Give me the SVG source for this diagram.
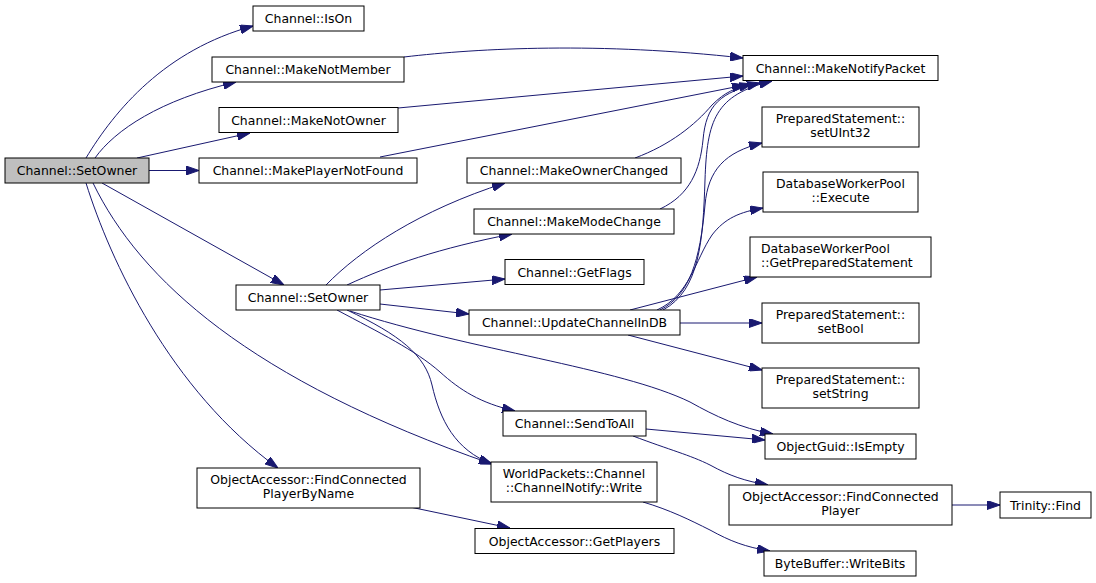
<svg xmlns="http://www.w3.org/2000/svg" width="1096" height="583" viewBox="0 0 1096 583">
<defs>
<marker id="ah" markerWidth="13" markerHeight="9" refX="13" refY="4.5" orient="auto" markerUnits="userSpaceOnUse"><path d="M0,0 L13,4.5 L0,9 z" fill="#191970" stroke="#191970" stroke-width="1"/></marker>
</defs>
<style>
.n rect{fill:#ffffff;stroke:#000000;stroke-width:1}
.n.root rect{fill:#bfbfbf}
.n text{font-family:"DejaVu Sans","Liberation Sans",sans-serif;font-size:12.45px;fill:#000000;text-anchor:middle}
.n text.l{text-anchor:start}
#edges path{fill:none;stroke:#191970;stroke-width:1;marker-end:url(#ah)}
</style>
<rect x="0" y="0" width="1096" height="583" fill="#ffffff"/>
<g id="edges">
<path d="M86,158 C115,110 165,50 253,26"/>
<path d="M95,158 C115,130 160,100 236,82"/>
<path d="M137,158 L250,133"/>
<path d="M149,170.5 L199,170.5"/>
<path d="M102,183 L284,285"/>
<path d="M86,183 C110,260 170,390 278,468"/>
<path d="M93,183 C140,280 250,380 492,464"/>
<path d="M326,285 C360,250 420,210 505,183"/>
<path d="M347,285 C390,265 440,248 512,234"/>
<path d="M380,290 L505,279"/>
<path d="M380,304 L469,314"/>
<path d="M350,311 C470,350 620,368 690,402 C715,416 740,428 773,434"/>
<path d="M337,310 C380,333 415,350 440,372 C460,390 480,403 515,411"/>
<path d="M347,310 C400,335 425,355 432,385 C440,420 455,450 492,464"/>
<path d="M680,323 L762,323"/>
<path d="M628,335 L762,370"/>
<path d="M630,310 L757,277"/>
<path d="M657,310 C690,295 695,260 712,235 C725,218 740,212 763,208"/>
<path d="M660,310 C690,295 700,260 705,205 C708,170 725,152 762,143"/>
<path d="M663,310 C700,290 703,240 705,180 C707,120 715,95 772,81"/>
<path d="M404,57 C480,48 600,42 743,58"/>
<path d="M398,108 L743,76"/>
<path d="M380,157 L745,85"/>
<path d="M635,158 C670,145 695,125 712,105 C725,92 735,88 752,84"/>
<path d="M660,209 C690,195 700,170 703,140 C706,105 720,92 760,83"/>
<path d="M646,429 L765,440"/>
<path d="M633,436 C670,450 690,455 710,465 C730,476 745,481 768,485"/>
<path d="M643,502 C670,510 690,520 710,530 C730,541 745,547 770,551"/>
<path d="M410,507 L510,528"/>
<path d="M952,505 L1000,505"/>
</g>
<g id="n_root" class="n root"><rect x="5" y="158" width="144" height="25"/><text x="77" y="175">Channel::SetOwner</text></g>
<g id="n_ison" class="n"><rect x="253" y="6" width="111" height="25"/><text x="308.5" y="23">Channel::IsOn</text></g>
<g id="n_makenotmember" class="n"><rect x="212" y="57" width="192" height="25"/><text x="308" y="74">Channel::MakeNotMember</text></g>
<g id="n_makenotowner" class="n"><rect x="219" y="107.5" width="179" height="25"/><text x="308.5" y="124.5">Channel::MakeNotOwner</text></g>
<g id="n_makeplayernotfound" class="n"><rect x="199" y="158" width="218" height="25"/><text x="308" y="175">Channel::MakePlayerNotFound</text></g>
<g id="n_setowner2" class="n"><rect x="236" y="285" width="144" height="25"/><text x="308" y="302">Channel::SetOwner</text></g>
<g id="n_findbyname" class="n"><rect x="197" y="468" width="223" height="40"/><text x="308.5" y="484">ObjectAccessor::FindConnected</text><text x="308.5" y="498">PlayerByName</text></g>
<g id="n_makeownerchanged" class="n"><rect x="467" y="158" width="214" height="25"/><text x="574" y="175">Channel::MakeOwnerChanged</text></g>
<g id="n_makemodechange" class="n"><rect x="474" y="209" width="200" height="25"/><text x="574" y="226">Channel::MakeModeChange</text></g>
<g id="n_getflags" class="n"><rect x="505" y="259.5" width="139" height="25"/><text x="574.5" y="276.5">Channel::GetFlags</text></g>
<g id="n_updatechannelindb" class="n"><rect x="469" y="310" width="211" height="25"/><text x="574.5" y="327">Channel::UpdateChannelInDB</text></g>
<g id="n_sendtoall" class="n"><rect x="503" y="411" width="143" height="25"/><text x="574.5" y="428">Channel::SendToAll</text></g>
<g id="n_write" class="n"><rect x="491" y="462" width="166" height="40"/><text x="574" y="478">WorldPackets::Channel</text><text x="574" y="492">::ChannelNotify::Write</text></g>
<g id="n_getplayers" class="n"><rect x="475" y="528.5" width="199" height="25"/><text x="574.5" y="545.5">ObjectAccessor::GetPlayers</text></g>
<g id="n_makenotifypacket" class="n"><rect x="743" y="55.5" width="195" height="25"/><text x="840.5" y="72.5">Channel::MakeNotifyPacket</text></g>
<g id="n_setuint32" class="n"><rect x="762" y="107" width="157" height="40"/><text x="840.5" y="123">PreparedStatement::</text><text x="840.5" y="137">setUInt32</text></g>
<g id="n_execute" class="n"><rect x="763" y="172" width="155" height="40"/><text x="840.5" y="188">DatabaseWorkerPool</text><text x="840.5" y="202">::Execute</text></g>
<g id="n_getpreparedstatement" class="n"><rect x="750" y="237" width="181" height="40"/><text class="l" x="761" y="253">DatabaseWorkerPool</text><text class="l" x="761" y="267">::GetPreparedStatement</text></g>
<g id="n_setbool" class="n"><rect x="762" y="303" width="157" height="40"/><text x="840.5" y="319">PreparedStatement::</text><text x="840.5" y="333">setBool</text></g>
<g id="n_setstring" class="n"><rect x="762" y="368" width="157" height="40"/><text x="840.5" y="384">PreparedStatement::</text><text x="840.5" y="398">setString</text></g>
<g id="n_isempty" class="n"><rect x="765" y="434" width="151" height="25"/><text x="840.5" y="451">ObjectGuid::IsEmpty</text></g>
<g id="n_findconnectedplayer" class="n"><rect x="729" y="485" width="223" height="40"/><text x="840.5" y="501">ObjectAccessor::FindConnected</text><text x="840.5" y="515">Player</text></g>
<g id="n_writebits" class="n"><rect x="764" y="551" width="152" height="25"/><text x="840" y="568">ByteBuffer::WriteBits</text></g>
<g id="n_trinityfind" class="n"><rect x="1000" y="492" width="91" height="26"/><text x="1045.5" y="509.5">Trinity::Find</text></g>
</svg>
